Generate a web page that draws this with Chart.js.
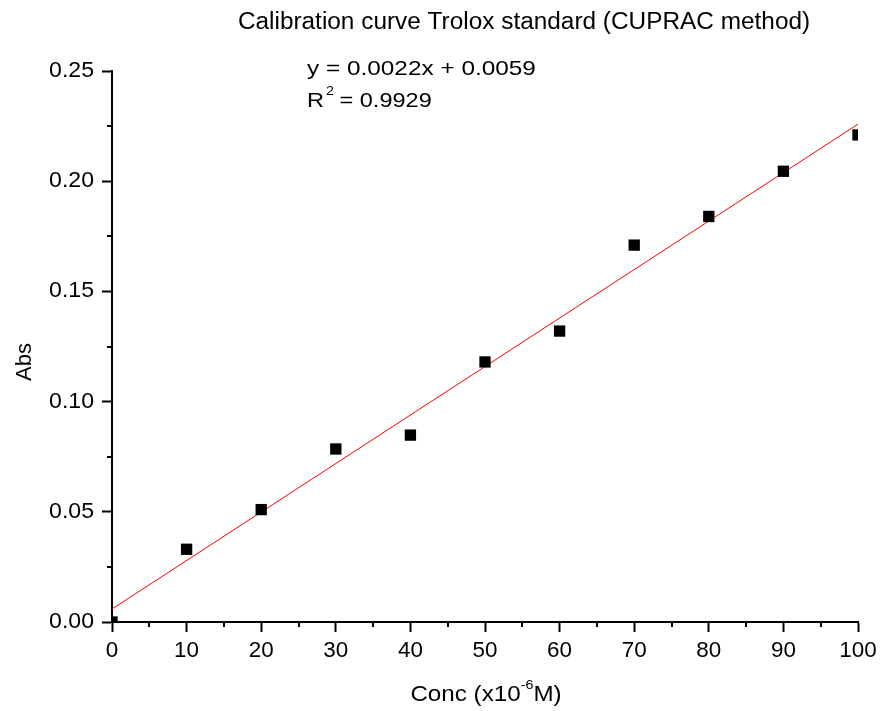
<!DOCTYPE html>
<html>
<head>
<meta charset="utf-8">
<script src="https://cdn.jsdelivr.net/npm/chart.js@4/dist/chart.umd.min.js"></script>
<style>
  html, body { margin: 0; padding: 0; background: #ffffff; }
  #wrap { width: 881px; height: 711px; }
</style>
</head>
<body>
<div id="wrap"><canvas id="calib" width="881" height="711"></canvas></div>
<script>
// measured points
const concValues = [0, 10, 20, 30, 40, 50, 60, 70, 80, 90, 100]
const absValues = [0.000, 0.033, 0.051, 0.0785, 0.0848, 0.118, 0.132, 0.171, 0.184, 0.2045, 0.221]

// linear fit y = 0.0022x + 0.0059
const fitX = [0, 100]
const fitY = [0.0059, 0.2259]

const xTicks = [0, 10, 20, 30, 40, 50, 60, 70, 80, 90, 100]
const yTicks = [0.00, 0.05, 0.10, 0.15, 0.20, 0.25]

const FONT = "'Liberation Sans', Arial, sans-serif"

// text a little wider than plain Arial, like the original
function txt(c, s, x, y, size, sx, align, base) {
    c.save()
    c.font = size + 'px ' + FONT
    c.textAlign = align || 'left'
    c.textBaseline = base || 'alphabetic'
    c.scale(sx, 1)
    c.fillText(s, x / sx, y)
    c.restore()
}

function wid(c, s, size, sx) {
    c.font = size + 'px ' + FONT
    return c.measureText(s).width * sx
}

const extras = {
    id: 'extras',
    afterDraw(chart) {
        const c = chart.ctx
        const xs = chart.scales.x
        const ys = chart.scales.y
        const area = chart.chartArea
        c.save()
        // minor ticks
        c.strokeStyle = '#000'
        c.lineWidth = 2
        c.beginPath()
        for (let v = 5; v < 100; v += 10) {
            const px = Math.round(xs.getPixelForValue(v))
            c.moveTo(px, area.bottom)
            c.lineTo(px, area.bottom + 5)
        }
        for (let v = 0.025; v < 0.25; v += 0.05) {
            const py = Math.round(ys.getPixelForValue(v))
            c.moveTo(area.left, py)
            c.lineTo(area.left - 5, py)
        }
        c.stroke()
        c.fillStyle = '#000'

        // tick labels
        xTicks.forEach(v => txt(c, String(v), xs.getPixelForValue(v), 651, 22, 1.02, 'center', 'middle'))
        yTicks.forEach(v => txt(c, v.toFixed(2), 94, ys.getPixelForValue(v), 22, 1.05, 'right', 'middle'))

        // title
        txt(c, 'Calibration curve Trolox standard (CUPRAC method)', 524, 29, 23, 1.06, 'center')

        // equation
        txt(c, 'y = 0.0022x + 0.0059', 307, 75, 21, 1.16)
        const wr = wid(c, 'R', 21, 1.12)
        txt(c, 'R', 307, 107, 21, 1.12)
        txt(c, '2', 307 + wr + 2, 95, 13, 1.1)
        txt(c, ' = 0.9929', 307 + wr + 9, 107, 21, 1.12)

        // x axis title with superscript
        const p1 = 'Conc (x10', sup = '-6', p2 = 'M)'
        const w1 = wid(c, p1, 22, 1.1), w2 = wid(c, sup, 13, 1.1), w3 = wid(c, p2, 22, 1.1)
        const x0 = 486 - (w1 + w2 + w3) / 2
        txt(c, p1, x0, 701, 22, 1.1)
        txt(c, sup, x0 + w1, 689, 13, 1.1)
        txt(c, p2, x0 + w1 + w2, 701, 22, 1.1)

        // y axis title
        c.translate(31, 362)
        c.rotate(-Math.PI / 2)
        c.font = '22px ' + FONT
        c.textAlign = 'center'
        c.textBaseline = 'alphabetic'
        c.fillText('Abs', 0, 0)
        c.restore()
    }
}

const ctx = document.getElementById('calib').getContext('2d')

const calibChart = new Chart(ctx, {
    type: 'scatter',
    data: {
        datasets: [
            {
                label: 'fit',
                type: 'line',
                data: fitX.map((x, i) => ({ x: x, y: fitY[i] })),
                borderColor: '#ff0000',
                borderWidth: 1,
                pointRadius: 0,
                fill: false,
                clip: 0,
                order: 2
            },
            {
                label: 'Abs',
                data: concValues.map((x, i) => ({ x: x, y: absValues[i] })),
                pointStyle: 'rect',
                pointRadius: 8,
                pointBackgroundColor: '#000',
                pointBorderColor: '#000',
                pointBorderWidth: 0,
                clip: 0,
                order: 1
            }
        ]
    },
    options: {
        responsive: false,
        animation: false,
        layout: { padding: { top: 71, right: 23, left: 0, bottom: 0 } },
        plugins: {
            legend: { display: false },
            tooltip: { enabled: false },
            title: { display: false }
        },
        scales: {
            x: {
                type: 'linear',
                min: 0,
                max: 100,
                afterBuildTicks: s => { s.ticks = xTicks.map(v => ({ value: v })) },
                afterFit: s => { s.height = 89 },
                ticks: { display: false },
                grid: { drawOnChartArea: false, drawTicks: true, tickLength: 10, tickColor: '#000', tickWidth: 2 },
                border: { color: '#000', width: 2 }
            },
            y: {
                type: 'linear',
                min: 0,
                max: 0.25,
                afterBuildTicks: s => { s.ticks = yTicks.map(v => ({ value: v })) },
                afterFit: s => { s.width = 112 },
                ticks: { display: false },
                grid: { drawOnChartArea: false, drawTicks: true, tickLength: 10, tickColor: '#000', tickWidth: 2 },
                border: { color: '#000', width: 2 }
            }
        }
    },
    plugins: [extras]
})
</script>
</body>
</html>
